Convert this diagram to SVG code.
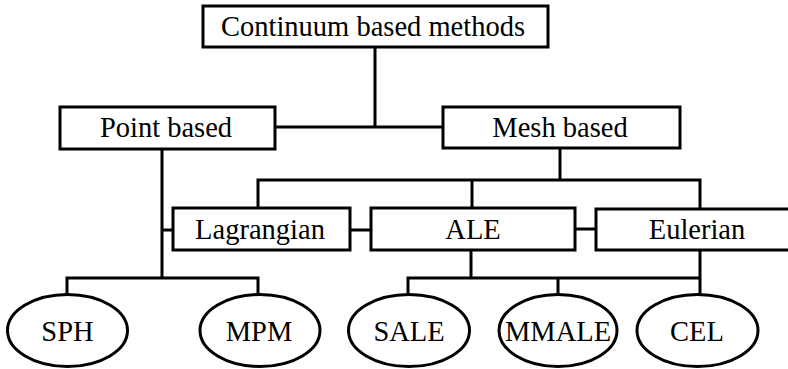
<svg xmlns="http://www.w3.org/2000/svg" width="788" height="369" viewBox="0 0 788 369">
  <style>
    .box { fill: #ffffff; stroke: #000000; stroke-width: 3; }
    .lbl { font-family: "Liberation Serif", "Times New Roman", serif; font-size: 28.5px; fill: #000000; text-anchor: middle; }
    .wire { fill: none; stroke: #000000; stroke-width: 3; stroke-linecap: square; }
  </style>
  <rect width="788" height="369" fill="#ffffff"/>

  <!-- connectors -->
  <g id="connectors" class="wire">
    <path d="M375,47 V127 M275,127 H443"/>
    <path d="M162,149 V278 M162,230 H173 M67,278 H258 M67,278 V294 M258,278 V294"/>
    <path d="M560,148 V180 M258,180 H700 M258,180 V208 M472,180 V208 M700,180 V209"/>
    <path d="M350,230 H371 M575,229 H596"/>
    <path d="M471,250 V278 M408,278 H700 M408,278 V294 M558,278 V294 M700,250 V294"/>
  </g>

  <!-- level 0 -->
  <g id="continuum">
    <rect class="box" x="203" y="6" width="345" height="41"/>
    <text class="lbl" x="373" y="36">Continuum based methods</text>
  </g>

  <!-- level 1 -->
  <g id="point-based">
    <rect class="box" x="60" y="107" width="215" height="42"/>
    <text class="lbl" x="166" y="137">Point based</text>
  </g>
  <g id="mesh-based">
    <rect class="box" x="443" y="107" width="237" height="41"/>
    <text class="lbl" x="560" y="137">Mesh based</text>
  </g>

  <!-- level 2 -->
  <g id="lagrangian">
    <rect class="box" x="173" y="208" width="177" height="42"/>
    <text class="lbl" x="260" y="239">Lagrangian</text>
  </g>
  <g id="ale">
    <rect class="box" x="371" y="208" width="204" height="42"/>
    <text class="lbl" x="473" y="239">ALE</text>
  </g>
  <g id="eulerian">
    <rect class="box" x="596" y="209" width="202" height="41"/>
    <text class="lbl" x="697" y="239">Eulerian</text>
  </g>

  <!-- methods -->
  <g id="sph">
    <ellipse class="box" cx="67.5" cy="330.5" rx="60" ry="36"/>
    <text class="lbl" x="67.5" y="341">SPH</text>
  </g>
  <g id="mpm">
    <ellipse class="box" cx="260" cy="330.5" rx="60" ry="36"/>
    <text class="lbl" x="259" y="341">MPM</text>
  </g>
  <g id="sale">
    <ellipse class="box" cx="409" cy="330.5" rx="60.5" ry="36"/>
    <text class="lbl" x="409" y="341">SALE</text>
  </g>
  <g id="mmale">
    <ellipse class="box" cx="558" cy="330.5" rx="59" ry="36"/>
    <text class="lbl" x="558" y="341">MMALE</text>
  </g>
  <g id="cel">
    <ellipse class="box" cx="697.5" cy="330.5" rx="60.5" ry="36"/>
    <text class="lbl" x="697" y="341">CEL</text>
  </g>
</svg>
